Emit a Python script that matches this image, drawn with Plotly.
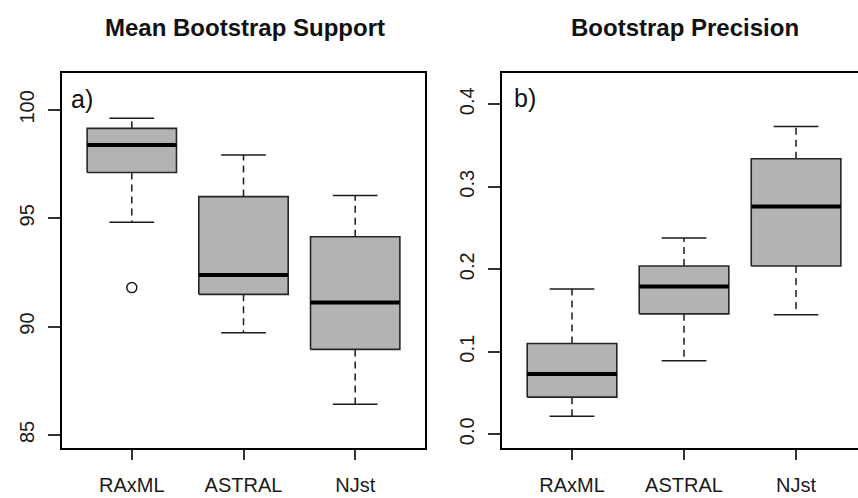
import plotly.graph_objects as go

# ---------------- data ----------------
categories = ["RAxML", "ASTRAL", "NJst"]

# a) Mean Bootstrap Support
mbs_lower = [94.82, 89.72, 86.42]
mbs_q1 = [97.11, 91.49, 88.95]
mbs_median = [98.38, 92.38, 91.11]
mbs_q3 = [99.15, 96.00, 94.15]
mbs_upper = [99.62, 97.92, 96.05]
mbs_outlier_cat = ["RAxML"]
mbs_outlier_val = [91.80]
mbs_ticks = [85, 90, 95, 100]

# b) Bootstrap Precision
bp_lower = [0.022, 0.089, 0.145]
bp_q1 = [0.045, 0.146, 0.204]
bp_median = [0.073, 0.179, 0.276]
bp_q3 = [0.110, 0.204, 0.334]
bp_upper = [0.176, 0.238, 0.373]
bp_ticks = [0.0, 0.1, 0.2, 0.3, 0.4]
bp_ticktext = ["0.0", "0.1", "0.2", "0.3", "0.4"]

W, H = 858, 498
FONT = "Liberation Sans, Arial, Helvetica, sans-serif"

fig = go.Figure()


def add_panel(xa, ya, lower, q1, med, q3, upper, out_cat=None, out_val=None):
    pos = {c: i + 1 for i, c in enumerate(categories)}
    hw, cw = 0.4, 0.2
    bx, by, wx, wy, cx, cy, mx, my = [], [], [], [], [], [], [], []
    for i, c in enumerate(categories):
        p = pos[c]
        bx += [p - hw, p + hw, p + hw, p - hw, p - hw, None]
        by += [q1[i], q1[i], q3[i], q3[i], q1[i], None]
        wx += [p, p, None, p, p, None]
        wy += [q3[i], upper[i], None, q1[i], lower[i], None]
        cx += [p - cw, p + cw, None, p - cw, p + cw, None]
        cy += [upper[i], upper[i], None, lower[i], lower[i], None]
        mx += [p - hw, p + hw, None]
        my += [med[i], med[i], None]
    common = dict(xaxis=xa, yaxis=ya, showlegend=False, hoverinfo="skip")
    fig.add_trace(go.Scatter(x=wx, y=wy, mode="lines",
                             line=dict(color="#1a1a1a", width=1.5, dash="7px,5px"), **common))
    fig.add_trace(go.Scatter(x=cx, y=cy, mode="lines",
                             line=dict(color="#1a1a1a", width=1.5), **common))
    fig.add_trace(go.Scatter(x=bx, y=by, mode="lines", fill="toself", fillcolor="#b3b3b3",
                             line=dict(color="#262626", width=1.6), **common))
    fig.add_trace(go.Scatter(x=mx, y=my, mode="lines",
                             line=dict(color="#000000", width=4), **common))
    if out_cat:
        fig.add_trace(go.Scatter(x=[pos[c] for c in out_cat], y=out_val, mode="markers",
                                 marker=dict(symbol="circle-open", size=10,
                                             color="#1a1a1a", line=dict(width=1.5)), **common))


add_panel("x", "y", mbs_lower, mbs_q1, mbs_median, mbs_q3, mbs_upper,
          mbs_outlier_cat, mbs_outlier_val)
add_panel("x2", "y2", bp_lower, bp_q1, bp_median, bp_q3, bp_upper)

ydom = [(H - 448.3) / H, (H - 73.3) / H]
axis_common = dict(showgrid=False, zeroline=False, showline=True, linecolor="#000000",
                   linewidth=2, ticks="outside", tickcolor="#333333", tickwidth=1.5,
                   tickfont=dict(family=FONT, size=20, color="#1a1a1a"))

fig.update_layout(
    width=W, height=H, autosize=False,
    margin=dict(l=0, r=0, t=0, b=0),
    paper_bgcolor="white", plot_bgcolor="white",
    font=dict(family=FONT, color="#1a1a1a"),
    xaxis=dict(domain=[62 / W, 425 / W], range=[0.375, 3.625], anchor="y",
               tickvals=[1, 2, 3], ticktext=categories, ticklen=10, mirror=True,
               ticklabelstandoff=8, **axis_common),
    yaxis=dict(domain=ydom, range=[84.385, 101.69], anchor="x",
               tickvals=mbs_ticks, tickangle=-90, ticklen=12, mirror=True,
               ticklabelstandoff=6, **axis_common),
    xaxis2=dict(domain=[502 / W, 1.0], range=[0.375, 3.553], anchor="y2",
                tickvals=[1, 2, 3], ticktext=categories, ticklen=10, mirror=True,
                ticklabelstandoff=8, **axis_common),
    yaxis2=dict(domain=ydom, range=[-0.017, 0.4376], anchor="x2",
                tickvals=bp_ticks, ticktext=bp_ticktext, tickangle=-90, ticklen=12,
                mirror=False, ticklabelstandoff=6, **axis_common),
)

titles = [("Mean Bootstrap Support", 245), ("Bootstrap Precision", 684.5)]
for txt, xp in titles:
    fig.add_annotation(text="<b>%s</b>" % txt, xref="paper", yref="paper",
                       x=xp / W, y=(H - 27) / H, xanchor="center", yanchor="middle",
                       showarrow=False, font=dict(family=FONT, size=24, color="#111111"))

for txt, xp, yp in [("a)", 82, 99), ("b)", 525, 98)]:
    fig.add_annotation(text=txt, xref="paper", yref="paper",
                       x=xp / W, y=(H - yp) / H, xanchor="center", yanchor="middle",
                       showarrow=False, font=dict(family=FONT, size=25, color="#111111"))

fig.write_html("out.html")
